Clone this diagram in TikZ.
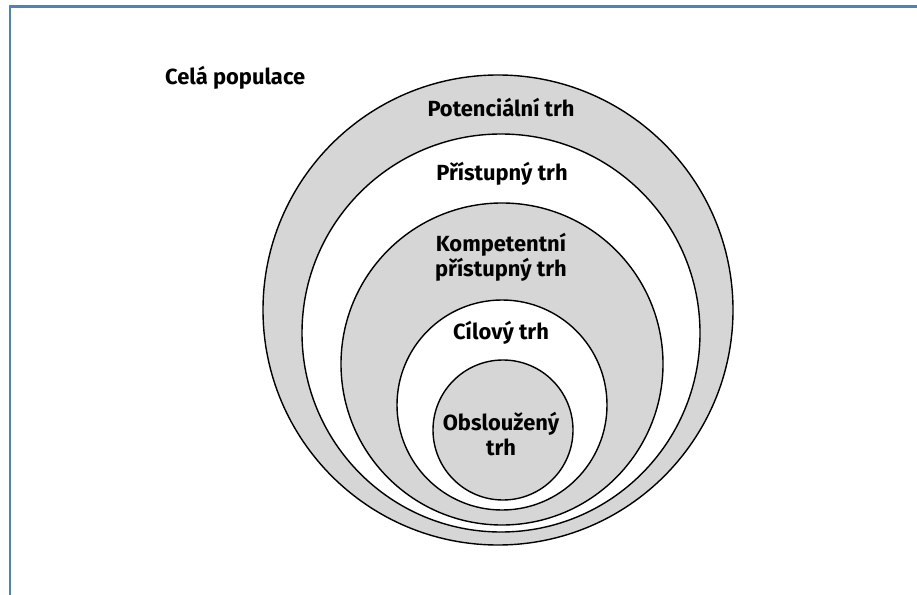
\documentclass[tikz,border=0pt]{standalone}
\usepackage{fontspec}
\setsansfont{Fira Sans}
\usepackage{xcolor}
\usepackage{tikz}
\usetikzlibrary{positioning}
\definecolor{framec}{HTML}{4F81BD}
\definecolor{ringc}{HTML}{D6D6D6}
\tikzset{
  ring/.style={circle,draw=black,line width=1.4bp,inner sep=0pt,minimum size=#1},
  lbl/.style={font=\sffamily\bfseries\fontsize{22}{25}\selectfont,align=center,inner sep=0pt}
}

\begin{document}
\begin{tikzpicture}[x=1bp,y=-1bp]
\useasboundingbox (0,0) rectangle (917,595);
\draw[framec,line width=2.2bp] (10,595) -- (10,6.5) -- (917,6.5);
% nested markets
\node[ring=470bp,fill=ringc] (pot) at (498,310) {};
\node[ring=398bp,fill=white] (pri) at (501,333) {};
\node[ring=322bp,fill=ringc] (komp) at (502,364) {};
\node[ring=210bp,fill=white] (cil) at (502,405) {};
\node[ring=140bp,fill=ringc] (obs) at (503,430) {};
% labels
\node[lbl,anchor=west] (cela) at (165,78) {Celá populace};
\node[lbl] (potl) at (501,108) {Potenciální trh};
\node[lbl] (pril) at (502,174) {Přístupný trh};
\node[lbl] (kompl) at (501,257) {Kompetentní\\přístupný trh};
\node[lbl] (cill) at (501,333) {Cílový trh};
\node[lbl] (obsl) at (501,434) {Obsloužený\\trh};
\end{tikzpicture}
\end{document}
